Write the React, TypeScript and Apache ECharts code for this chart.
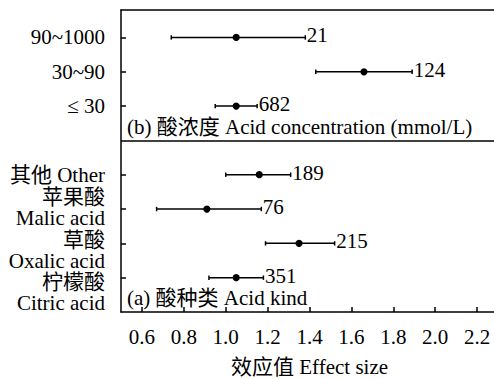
import React, { useEffect, useRef } from "react";
import * as echarts from "echarts";

// Acid concentration panel (top-down order)
const concCategories = ["90~1000", "30~90", "≤ 30"];
const concMean = [1.05, 1.66, 1.05];
const concLower = [0.74, 1.43, 0.95];
const concUpper = [1.38, 1.89, 1.15];
const concN = [21, 124, 682];

// Acid kind panel (top-down order)
const kindCategories = ["其他 Other", "苹果酸\nMalic acid", "草酸\nOxalic acid", "柠檬酸\nCitric acid"];
const kindMean = [1.16, 0.91, 1.35, 1.05];
const kindLower = [1.0, 0.67, 1.19, 0.92];
const kindUpper = [1.31, 1.17, 1.52, 1.18];
const kindN = [189, 76, 215, 351];

const xTicks = [0.6, 0.8, 1.0, 1.2, 1.4, 1.6, 1.8, 2.0, 2.2];
const xName = "效应值 Effect size";
const concTitle = "(b) 酸浓度 Acid concentration (mmol/L)";
const kindTitle = "(a) 酸种类 Acid kind";

// layout only: vertical nudge (px) of the category labels, top-down kinds then conc
const kindLabelNudge = [0, -2, 7, 15];
const concLabelNudge = [0, 0, 0];

const FONT = "'Liberation Serif', 'Times New Roman', 'Noto Sans CJK SC', serif";
const FS = 21;

export default function App() {
  const ref = useRef<HTMLDivElement>(null);
  useEffect(() => {
    if (!ref.current) return;
    const chart = echarts.init(ref.current, null, { renderer: "svg" });

    // Positions: kinds bottom-up at 1..4, gap at 5, conc bottom-up at 6..8
    const nK = kindCategories.length;
    const nC = concCategories.length;
    const rows: any[] = [];
    const rowLabels: string[] = [];
    const rowNudge: number[] = [];
    kindCategories.forEach((c, i) => {
      const pos = nK - i;
      rowLabels.push(c);
      rowNudge.push(kindLabelNudge[i]);
      rows.push([kindLower[i], kindMean[i], kindUpper[i], pos, kindN[i]]);
    });
    concCategories.forEach((c, i) => {
      const pos = nK + 1 + (nC - i);
      rowLabels.push(c);
      rowNudge.push(concLabelNudge[i]);
      rows.push([concLower[i], concMean[i], concUpper[i], pos, concN[i]]);
    });
    const yTickVals = rows.map((r) => r[3]).sort((a, b) => a - b);
    const sepPos = nK + 1;
    const yMax = nK + nC + 1.8;

    const renderItem = (params: any, api: any) => {
      const lo = api.coord([api.value(0), api.value(3)]);
      const mid = api.coord([api.value(1), api.value(3)]);
      const hi = api.coord([api.value(2), api.value(3)]);
      const cap = 2.2;
      const ls = { stroke: "#000", lineWidth: 1.5 };
      const axisX = params.coordSys.x;
      return {
        type: "group",
        children: [
          { type: "line", shape: { x1: lo[0], y1: lo[1], x2: hi[0], y2: hi[1] }, style: ls },
          { type: "line", shape: { x1: lo[0], y1: lo[1] - cap, x2: lo[0], y2: lo[1] + cap }, style: ls },
          { type: "line", shape: { x1: hi[0], y1: hi[1] - cap, x2: hi[0], y2: hi[1] + cap }, style: ls },
          { type: "circle", shape: { cx: mid[0], cy: mid[1], r: 3.6 }, style: { fill: "#000" } },
          {
            type: "text",
            x: hi[0] + 1.5,
            y: hi[1] - 2,
            style: {
              text: String(api.value(4)),
              fill: "#000",
              fontSize: FS,
              fontFamily: FONT,
              textAlign: "left",
              textVerticalAlign: "middle",
            },
          },
          {
            type: "text",
            x: axisX - 16,
            y: mid[1] + rowNudge[params.dataIndex],
            style: {
              text: rowLabels[params.dataIndex],
              fill: "#000",
              fontSize: FS,
              fontFamily: FONT,
              lineHeight: 21,
              textAlign: "right",
              textVerticalAlign: "middle",
            },
          },
        ],
      };
    };

    chart.setOption({
      animation: false,
      backgroundColor: "#fff",
      textStyle: { fontFamily: FONT },
      grid: { left: 121, top: 10, width: 377, height: 302, containLabel: false, outerBoundsMode: "none" },
      xAxis: [
        {
          type: "value",
          min: 0.5,
          max: 2.3,
          position: "bottom",
          splitLine: { show: false },
          axisLine: { show: true, lineStyle: { color: "#000", width: 1.5 } },
          axisTick: { show: true, inside: true, length: 5, customValues: xTicks, lineStyle: { color: "#000", width: 1.5 } },
          axisLabel: {
            customValues: xTicks,
            formatter: (v: number) => v.toFixed(1),
            color: "#000",
            fontSize: FS,
            fontFamily: FONT,
            margin: 14,
            hideOverlap: false,
          },
          name: xName,
          nameLocation: "middle",
          nameGap: 44,
          nameTextStyle: { color: "#000", fontSize: FS, fontFamily: FONT },
        },
        {
          type: "value",
          min: 0.5,
          max: 2.3,
          position: "top",
          splitLine: { show: false },
          axisLine: { show: true, lineStyle: { color: "#000", width: 1.5 } },
          axisTick: { show: false },
          axisLabel: { show: false },
        },
      ],
      yAxis: {
        type: "value",
        min: 0,
        max: yMax,
        splitLine: { show: false },
        axisLine: { show: true, lineStyle: { color: "#000", width: 1.5 } },
        axisTick: { show: true, inside: true, length: 5, customValues: yTickVals, lineStyle: { color: "#000", width: 1.5 } },
        axisLabel: { show: false },
      },
      series: [
        {
          type: "custom",
          renderItem,
          data: rows,
          encode: { x: [0, 1, 2], y: 3 },
          clip: false,
          markLine: {
            silent: true,
            symbol: ["none", "none"],
            label: { show: false },
            lineStyle: { color: "#000", width: 1.5, type: "solid" },
            data: [{ yAxis: sepPos }],
          },
        },
      ],
      graphic: [
        {
          type: "text",
          left: 127,
          top: 116,
          style: { text: concTitle, fill: "#000", fontSize: FS, fontFamily: FONT },
        },
        {
          type: "text",
          left: 127,
          top: 287,
          style: { text: kindTitle, fill: "#000", fontSize: FS, fontFamily: FONT },
        },
      ],
    });
    return () => chart.dispose();
  }, []);
  return <div ref={ref} style={{ position: "fixed", left: 0, top: 0, width: 494, height: 379 }} />;
}
